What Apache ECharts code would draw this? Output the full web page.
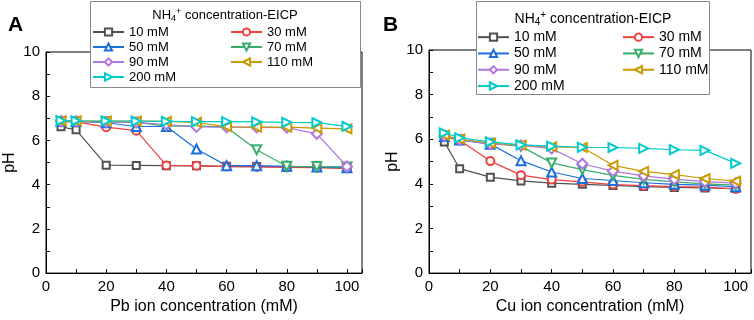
<!DOCTYPE html>
<html>
<head>
<meta charset="utf-8">
<script src="https://cdn.jsdelivr.net/npm/echarts@6/dist/echarts.min.js"></script>
<style>
  html, body { margin: 0; padding: 0; background: #fff; }
  #chart { width: 754px; height: 320px; }
</style>
</head>
<body>
<div id="chart"></div>
<script>
const concentrations = [5, 10, 20, 30, 40, 50, 60, 70, 80, 90, 100];
const seriesNames = ['10 mM', '30 mM', '50 mM', '70 mM', '90 mM', '110 mM', '200 mM'];

// panel A, Pb
const pb10 = [6.62, 6.48, 4.88, 4.87, 4.86, 4.85, 4.83, 4.82, 4.80, 4.78, 4.75];
const pb30 = [6.85, 6.84, 6.60, 6.44, 4.87, 4.86, 4.82, 4.80, 4.78, 4.77, 4.74];
const pb50 = [6.87, 6.86, 6.80, 6.63, 6.63, 5.61, 4.86, 4.86, 4.83, 4.80, 4.77];
const pb70 = [6.86, 6.85, 6.84, 6.82, 6.65, 6.66, 6.60, 5.58, 4.83, 4.82, 4.80];
const pb90 = [6.87, 6.86, 6.84, 6.82, 6.72, 6.61, 6.60, 6.59, 6.58, 6.30, 4.82];
const pb110 = [6.89, 6.88, 6.87, 6.87, 6.86, 6.82, 6.62, 6.60, 6.60, 6.56, 6.52];
const pb200 = [6.90, 6.89, 6.88, 6.87, 6.86, 6.85, 6.85, 6.84, 6.82, 6.81, 6.64];

// panel B, Cu
const cu10 = [5.88, 4.68, 4.30, 4.13, 4.03, 3.98, 3.93, 3.88, 3.84, 3.82, 3.79];
const cu30 = [6.12, 5.95, 5.02, 4.39, 4.19, 4.09, 3.97, 3.92, 3.88, 3.85, 3.77];
const cu50 = [6.12, 5.97, 5.78, 5.04, 4.53, 4.24, 4.15, 4.05, 3.98, 3.94, 3.87];
const cu70 = [6.14, 5.98, 5.82, 5.68, 4.94, 4.64, 4.38, 4.20, 4.09, 4.00, 3.94];
const cu90 = [6.15, 5.97, 5.78, 5.72, 5.58, 4.90, 4.57, 4.36, 4.21, 4.10, 4.03];
const cu110 = [6.18, 6.00, 5.82, 5.74, 5.66, 5.63, 4.83, 4.56, 4.41, 4.24, 4.12];
const cu200 = [6.29, 6.06, 5.88, 5.75, 5.69, 5.64, 5.63, 5.59, 5.53, 5.50, 4.92];

const xTickLabels = [0, 20, 40, 60, 80, 100];
const yTickLabels = [0, 2, 4, 6, 8, 10];

const colors = ['#515151', '#F14040', '#1A6FDF', '#37AD6B', '#B177DE', '#CC9900', '#00CBCC'];
const symbols = [
  { symbol: 'emptyRect', size: 7, rotate: 0 },
  { symbol: 'emptyCircle', size: 8, rotate: 0 },
  { symbol: 'emptyTriangle', size: 9, rotate: 0 },
  { symbol: 'emptyTriangle', size: 9, rotate: 180 },
  { symbol: 'emptyDiamond', size: 10, rotate: 0 },
  { symbol: 'emptyTriangle', size: 9, rotate: 90 },
  { symbol: 'emptyTriangle', size: 9, rotate: -90 }
];

const pbData = [pb10, pb30, pb50, pb70, pb90, pb110, pb200];
const cuData = [cu10, cu30, cu50, cu70, cu90, cu110, cu200];

const FONT = 'Liberation Sans, Arial, sans-serif';

const chart = echarts.init(document.getElementById('chart'), null, { renderer: 'canvas' });

const makeSeries = (values, idx, axisIdx) => ({
  name: seriesNames[idx],
  type: 'line',
  xAxisIndex: axisIdx,
  yAxisIndex: axisIdx,
  data: concentrations.map((c, i) => [c, values[i]]),
  symbol: symbols[idx].symbol,
  symbolSize: symbols[idx].size,
  symbolRotate: symbols[idx].rotate,
  lineStyle: { width: 1.2, color: colors[idx] },
  itemStyle: { color: colors[idx], borderWidth: 1.3 },
  emphasis: { disabled: true },
  animation: false,
  z: 2 + idx
});

const xAxisFor = (gridIndex, name) => ({
  type: 'value',
  gridIndex,
  min: 0,
  max: 105,
  interval: 10,
  name,
  nameLocation: 'middle',
  nameGap: 23,
  nameTextStyle: { fontFamily: FONT, fontSize: 16, color: '#000' },
  axisLine: { lineStyle: { color: '#000', width: 1 } },
  axisTick: { inside: true, length: 4, lineStyle: { color: '#000' } },
  axisLabel: {
    fontFamily: FONT, fontSize: 15, color: '#000', margin: 6,
    formatter: v => (xTickLabels.includes(v) ? String(v) : '')
  },
  splitLine: { show: false }
});

const yAxisFor = gridIndex => ({
  type: 'value',
  gridIndex,
  min: 0,
  max: 10,
  interval: 1,
  name: 'pH',
  nameLocation: 'middle',
  nameGap: 28,
  nameTextStyle: { fontFamily: FONT, fontSize: 16, color: '#000' },
  axisLine: { show: true, lineStyle: { color: '#000', width: 1 } },
  axisTick: { show: true, inside: true, length: 4, lineStyle: { color: '#000' } },
  axisLabel: {
    fontFamily: FONT, fontSize: 15, color: '#000', margin: 6,
    formatter: v => (yTickLabels.includes(v) ? String(v) : '')
  },
  splitLine: { show: false }
});

// legend columns: left column 10/50/90/200, right column 30/70/110
const legendCol = (left, top, data, fontSize, lineHeight) => ({
  orient: 'vertical',
  left,
  top,
  padding: 0,
  itemGap: 0,
  itemWidth: 31,
  itemHeight: 9,
  itemStyle: { borderWidth: 1.3 },
  data,
  selectedMode: false,
  z: 20,
  textStyle: { fontFamily: FONT, fontSize, color: '#000', lineHeight }
});

const legendTitle = (cx, cy, fs) => ({
  type: 'text',
  x: cx,
  y: cy,
  z: 20,
  style: {
    text: '{a|NH}{b|4}{c|+}{a| concentration-EICP}',
    align: 'center',
    verticalAlign: 'middle',
    fill: '#000',
    rich: {
      a: { fontFamily: FONT, fontSize: fs, fill: '#000' },
      b: { fontFamily: FONT, fontSize: fs - 4, fill: '#000', padding: [7, 0, 0, 0] },
      c: { fontFamily: FONT, fontSize: fs - 4, fill: '#000', padding: [0, 0, 7, 0] }
    }
  }
});

const option = {
  backgroundColor: '#fff',
  animation: false,
  grid: [
    { left: 46, top: 52, width: 316, height: 222, show: true, borderColor: '#000', borderWidth: 1, containLabel: false },
    { left: 429, top: 50, width: 322, height: 226, show: true, borderColor: '#000', borderWidth: 1, containLabel: false }
  ],
  xAxis: [xAxisFor(0, 'Pb ion concentration (mM)'), xAxisFor(1, 'Cu ion concentration (mM)')],
  yAxis: [yAxisFor(0), yAxisFor(1)],
  legend: [
    legendCol(92, 24.5, ['10 mM', '50 mM', '90 mM', '200 mM'], 13, 15),
    legendCol(230, 24.5, ['30 mM', '70 mM', '110 mM'], 13, 15),
    legendCol(477, 29, ['10 mM', '50 mM', '90 mM', '200 mM'], 14, 16.3),
    legendCol(622, 29, ['30 mM', '70 mM', '110 mM'], 14, 16.3)
  ],
  graphic: [
    {
      type: 'rect', z: 10,
      shape: { x: 90.5, y: 1.5, width: 270, height: 86 },
      style: { fill: '#fff', stroke: '#8a8a8a', lineWidth: 1 }
    },
    {
      type: 'rect', z: 10,
      shape: { x: 476.5, y: 1.5, width: 233, height: 93 },
      style: { fill: '#fff', stroke: '#8a8a8a', lineWidth: 1 }
    },
    legendTitle(225, 15, 13),
    legendTitle(593, 19, 14),
    {
      type: 'text', x: 8, y: 25, z: 20,
      style: { text: 'A', fontFamily: FONT, fontSize: 21, fontWeight: 'bold', fill: '#000', verticalAlign: 'middle' }
    },
    {
      type: 'text', x: 383, y: 25, z: 20,
      style: { text: 'B', fontFamily: FONT, fontSize: 21, fontWeight: 'bold', fill: '#000', verticalAlign: 'middle' }
    }
  ],
  series: [
    ...pbData.map((vals, i) => makeSeries(vals, i, 0)),
    ...cuData.map((vals, i) => makeSeries(vals, i, 1))
  ]
};

chart.setOption(option);
</script>
</body>
</html>
